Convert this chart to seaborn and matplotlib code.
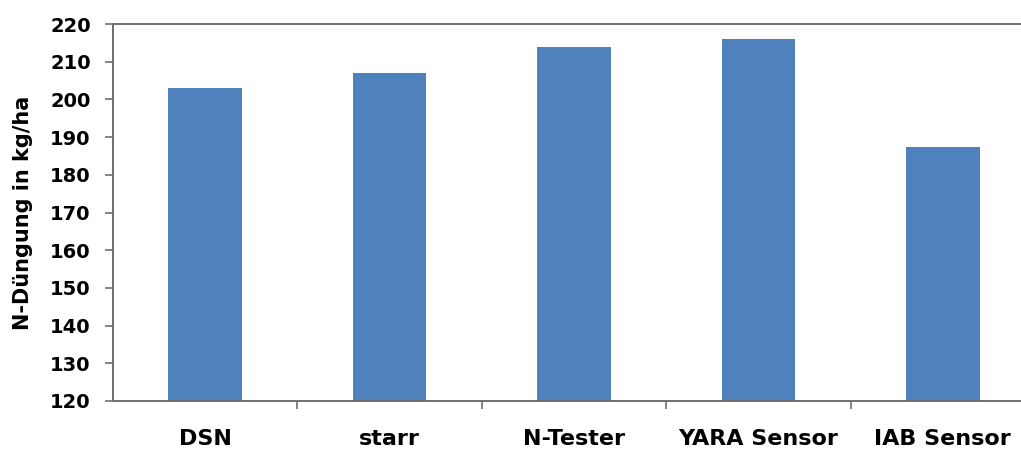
import numpy as np
import pandas as pd
import matplotlib
matplotlib.use("Agg")
import matplotlib.pyplot as plt
import seaborn as sns

# =====================
# DATA
# =====================
categories = ["DSN", "starr", "N-Tester", "YARA Sensor", "IAB Sensor"]
n_duengung = [203, 207, 214, 216, 187.5]
y_ticks = list(range(120, 221, 10))

df = pd.DataFrame({"Verfahren": categories, "N": n_duengung})

# =====================
# PLOT
# =====================
sns.set_theme(style="white")
plt.rcParams["font.family"] = ["DejaVu Sans"]
plt.rcParams["text.color"] = "black"
plt.rcParams["xtick.color"] = "#6e6e6e"
plt.rcParams["ytick.color"] = "#6e6e6e"
plt.rcParams["xtick.labelcolor"] = "black"
plt.rcParams["ytick.labelcolor"] = "black"

fig = plt.figure(figsize=(10.21, 4.5), dpi=100)
# axes runs a bit past the right edge, like the cropped original
ax = fig.add_axes([113 / 1021, 49 / 450, 922 / 1021, 377 / 450])

sns.barplot(data=df, x="Verfahren", y="N", color="#4F81BD", width=0.4,
            saturation=1, edgecolor="none", ax=ax)

ax.set_ylim(120, 220)
ax.set_xlim(-0.5, len(categories) - 0.5)
ax.set_yticks(y_ticks)
ax.set_yticklabels([str(t) for t in y_ticks], fontsize=14, fontweight="bold")
ax.set_xticks(range(len(categories)))
ax.set_xticklabels(categories, fontsize=16, fontweight="bold")
ax.set_xlabel("")
ax.set_ylabel("N-Düngung in kg/ha", fontsize=15, fontweight="bold", color="black")
ax.yaxis.set_label_coords(-0.087, 0.5)

# category separators as minor ticks
ax.set_xticks(np.arange(0.5, len(categories) - 0.5, 1), minor=True)
ax.tick_params(axis="x", which="major", length=0, pad=20)
ax.tick_params(axis="x", which="minor", direction="out", length=6, width=1.2,
               bottom=True)
ax.tick_params(axis="y", direction="out", length=6, width=1.2,
               left=True, pad=10)

for side in ["left", "bottom", "top"]:
    ax.spines[side].set_visible(True)
    ax.spines[side].set_color("#6e6e6e")
    ax.spines[side].set_linewidth(1.4)
ax.spines["right"].set_visible(False)

fig.savefig("out.png", dpi=100)
plt.close(fig)
